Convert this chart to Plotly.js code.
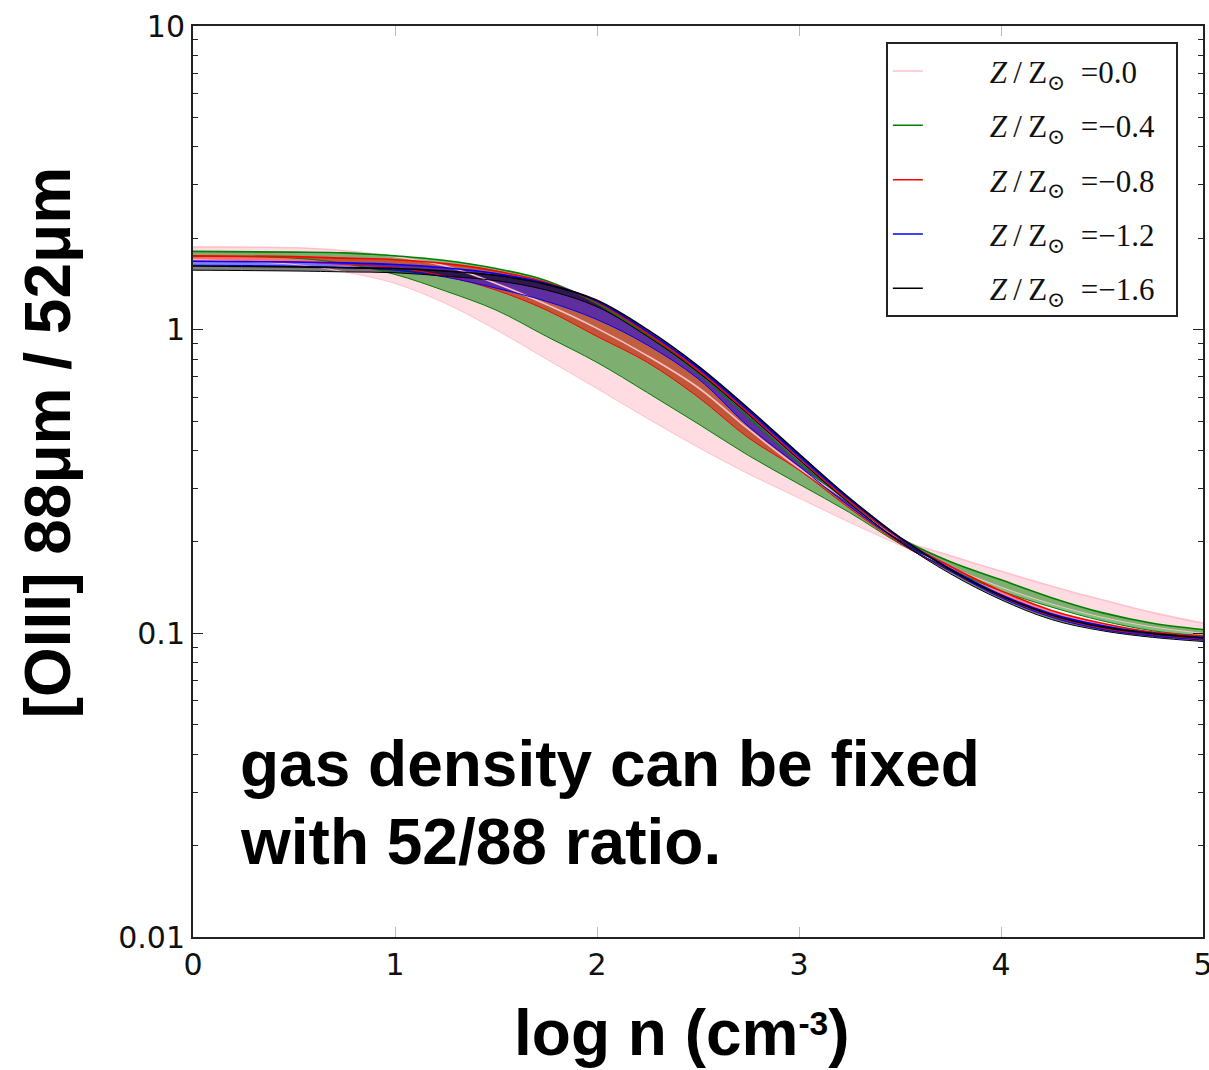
<!DOCTYPE html>
<html>
<head>
<meta charset="utf-8">
<script src="https://cdn.plot.ly/plotly-3.0.1.min.js"></script>
<style>html,body{margin:0;padding:0;background:#fff;}#chart{width:1209px;height:1070px;}</style>
</head>
<body>
<div id="chart"></div>
<script>
// log n (cm^-3)
const logn = [0,0.5,0.75,1,1.25,1.5,1.75,2,2.25,2.5,2.75,3,3.25,3.5,3.75,4,4.25,4.5,4.75,5];

// [OIII] 88/52 ratio envelopes per metallicity (upper / lower)
const z00_hi = [1.87,1.86,1.82,1.74,1.62,1.42,1.21,1.01,0.82,0.645,0.47,0.35,0.27,0.205,0.18,0.16,0.143,0.129,0.117,0.108];
const z00_lo = [1.70,1.64,1.55,1.42,1.22,1.00,0.80,0.64,0.51,0.41,0.335,0.279,0.232,0.195,0.165,0.142,0.125,0.113,0.105,0.100];
const z04_hi = [1.81,1.80,1.79,1.75,1.69,1.59,1.45,1.22,0.955,0.72,0.515,0.365,0.27,0.206,0.172,0.15,0.131,0.117,0.108,0.103];
const z04_lo = [1.74,1.72,1.65,1.52,1.34,1.16,0.95,0.78,0.62,0.49,0.385,0.31,0.25,0.197,0.162,0.138,0.122,0.110,0.102,0.098];
const z08_hi = [1.75,1.74,1.72,1.70,1.65,1.56,1.43,1.23,0.97,0.735,0.53,0.375,0.272,0.205,0.166,0.138,0.119,0.108,0.101,0.098];
const z08_lo = [1.68,1.67,1.64,1.60,1.50,1.35,1.16,0.95,0.78,0.60,0.44,0.345,0.258,0.198,0.16,0.132,0.114,0.104,0.098,0.096];
const z12_hi = [1.68,1.67,1.66,1.64,1.60,1.53,1.42,1.24,0.985,0.75,0.542,0.385,0.276,0.206,0.163,0.134,0.116,0.106,0.100,0.097];
const z12_lo = [1.63,1.62,1.60,1.57,1.49,1.37,1.24,1.08,0.89,0.69,0.48,0.355,0.262,0.2,0.16,0.131,0.113,0.103,0.098,0.095];
const z16_hi = [1.62,1.61,1.60,1.59,1.56,1.51,1.41,1.25,1.00,0.76,0.55,0.39,0.279,0.207,0.162,0.133,0.115,0.105,0.100,0.0966];
const z16_lo = [1.57,1.56,1.55,1.54,1.50,1.45,1.35,1.19,0.95,0.725,0.525,0.373,0.268,0.2,0.157,0.129,0.111,0.102,0.097,0.094];

const zLabels = ['0.0','\u22120.4','\u22120.8','\u22121.2','\u22121.6'];
const lineColors = ['#ffc0cb','#008000','#ff0000','#0000ff','#000000'];
const fillColors = ['rgba(255,192,203,0.55)','rgba(0,128,0,0.5)','rgba(255,0,0,0.5)','rgba(0,0,255,0.5)','rgba(0,0,0,0.5)'];
const hiSets = [z00_hi,z04_hi,z08_hi,z12_hi,z16_hi];
const loSets = [z00_lo,z04_lo,z08_lo,z12_lo,z16_lo];

const yTickVals = [0.01,0.1,1,10];
const yTickText = ['0.01','0.1','1','10'];
const xTickVals = [0,1,2,3,4,5];

const pad = '&nbsp;'.repeat(8);
const traces = [];
// filled bands first
for (let i = 0; i < 5; i++) {
  traces.push({x: logn, y: loSets[i], mode: 'lines', showlegend: false, hoverinfo: 'skip',
    line: {color: 'rgba(0,0,0,0)', width: 0, shape: 'spline'}});
  traces.push({x: logn, y: hiSets[i], mode: 'lines', showlegend: false, hoverinfo: 'skip',
    fill: 'tonexty', fillcolor: fillColors[i],
    line: {color: 'rgba(0,0,0,0)', width: 0, shape: 'spline'}});
}
// edge lines on top
for (let i = 0; i < 5; i++) {
  traces.push({x: logn, y: loSets[i], mode: 'lines', showlegend: false, hoverinfo: 'skip',
    line: {color: lineColors[i], width: 1, shape: 'spline'}});
  traces.push({x: logn, y: hiSets[i], mode: 'lines', showlegend: false, hoverinfo: 'skip',
    line: {color: lineColors[i], width: 1.6, shape: 'spline'}});
}
// legend entries
for (let i = 0; i < 5; i++) {
  traces.push({x: [null], y: [null], mode: 'lines', legendgroup: 'g' + i,
    name: pad + '<i>Z</i>\u2009/\u2009Z<sub>\u2299</sub>&nbsp;&nbsp;=' + zLabels[i] + '&nbsp;&nbsp;',
    line: {color: lineColors[i], width: 1.5}});
}

const boldSans = 'Liberation Sans, Arial, sans-serif';

const layout = {
  width: 1209, height: 1070,
  margin: {l: 193, r: 6, t: 26, b: 133},
  paper_bgcolor: '#fff', plot_bgcolor: '#fff',
  showlegend: true,
  legend: {x: 0.686, y: 0.982, xanchor: 'left', yanchor: 'top',
    bgcolor: '#fff', bordercolor: '#222', borderwidth: 2,
    font: {family: 'Liberation Serif, DejaVu Serif, serif', size: 31, color: '#111'},
    tracegroupgap: 11},
  xaxis: {range: [0, 5], tickmode: 'array', tickvals: xTickVals, ticktext: xTickVals.map(String),
    ticks: 'inside', ticklen: 10, tickwidth: 1, tickcolor: '#bbb', ticklabeloverflow: 'allow',
    showline: true, linecolor: '#222', linewidth: 2, mirror: 'ticks', showgrid: false, zeroline: false,
    tickfont: {family: 'DejaVu Sans, sans-serif', size: 30, color: '#111'}},
  yaxis: {type: 'log', range: [-2, 1], tickmode: 'array', tickvals: yTickVals, ticktext: yTickText,
    ticks: 'inside', ticklen: 10, tickwidth: 1, tickcolor: '#222',
    minor: {ticks: 'inside', ticklen: 5, tickcolor: '#222', dtick: 'D1', showgrid: false},
    showline: true, linecolor: '#222', linewidth: 2, mirror: 'ticks', showgrid: false, zeroline: false,
    tickfont: {family: 'DejaVu Sans, sans-serif', size: 30, color: '#111'}},
  annotations: [
    {xref: 'paper', yref: 'paper', x: -0.1436, y: 0.543, xanchor: 'center', yanchor: 'middle', showarrow: false,
     textangle: -90, text: '<b>[OIII] 88\u03bcm / 52\u03bcm</b>', font: {family: boldSans, size: 64, color: '#000'}},
    {xref: 'paper', yref: 'paper', x: 0.484, y: -0.105, xanchor: 'center', yanchor: 'middle', showarrow: false,
     text: '<b>log n (cm<span style="font-size:48px"><sup>-3</sup></span>)</b>', font: {family: boldSans, size: 64, color: '#000'}},
    {xref: 'paper', yref: 'paper', x: 0.045, y: 0.19, xanchor: 'left', yanchor: 'middle', showarrow: false,
     text: '<b>gas density can be fixed</b>', font: {family: boldSans, size: 64, color: '#000'}},
    {xref: 'paper', yref: 'paper', x: 0.045, y: 0.104, xanchor: 'left', yanchor: 'middle', showarrow: false,
     text: '<b>with 52/88 ratio.</b>', font: {family: boldSans, size: 64, color: '#000'}}
  ]
};

Plotly.newPlot('chart', traces, layout, {displayModeBar: false, staticPlot: true});
</script>
</body>
</html>
